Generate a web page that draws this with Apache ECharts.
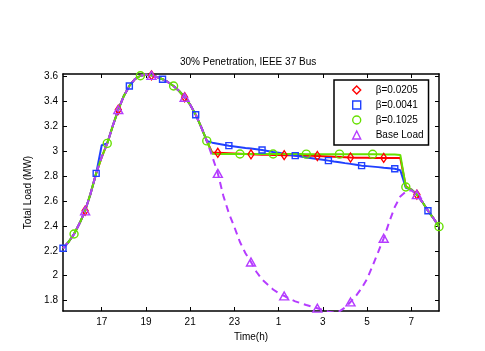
<!DOCTYPE html>
<html>
<head>
<meta charset="utf-8">
<script src="https://cdn.jsdelivr.net/npm/echarts@6/dist/echarts.min.js"></script>
<style>
  html, body { margin: 0; padding: 0; background: #fff; }
  #chart { width: 485px; height: 351px; }
</style>
</head>
<body>
<div id="chart"></div>
<script>
// time of day in hours (past midnight goes on as 24, 25, ...)
const hours = [15.25,15.5,15.75,16,16.25,16.5,16.75,17,17.25,17.5,17.75,18,18.25,18.5,18.75,19,19.25,19.5,19.75,20,
  20.25,20.5,20.75,21,21.25,21.5,21.75,22,22.25,22.5,22.75,23,23.25,23.5,23.75,24,24.25,24.5,24.75,25,
  25.25,25.5,25.75,26,26.25,26.5,26.75,27,27.25,27.5,27.75,28,28.25,28.5,28.75,29,29.25,29.5,29.75,30,
  30.25,30.5,30.75,31,31.25,31.5,31.75,32,32.25];

// total load (MW)
const beta0205 = [2.22,2.27,2.334,2.42,2.52,2.66,2.82,2.95,3.06,3.2,3.33,3.44,3.52,3.575,3.602,3.612,3.605,3.592,3.574,3.55,
  3.52,3.48,3.43,3.37,3.29,3.19,3.08,2.985,2.985,2.983,2.981,2.979,2.977,2.975,2.973,2.971,2.970,2.969,2.968,2.967,
  2.966,2.965,2.964,2.963,2.962,2.961,2.959,2.957,2.955,2.953,2.951,2.949,2.947,2.946,2.945,2.945,2.944,2.944,2.944,2.944,
  2.944,2.943,2.715,2.69,2.65,2.59,2.521,2.46,2.393];
const beta0041 = [2.22,2.27,2.334,2.42,2.52,2.66,2.82,3.045,3.06,3.2,3.33,3.44,3.52,3.575,3.602,3.612,3.605,3.592,3.574,3.55,
  3.52,3.48,3.43,3.37,3.29,3.19,3.08,3.066,3.058,3.05,3.042,3.036,3.03,3.024,3.019,3.013,3.007,3.0,2.992,2.985,
  2.977,2.97,2.962,2.955,2.948,2.942,2.935,2.929,2.922,2.915,2.909,2.902,2.896,2.889,2.882,2.878,2.874,2.87,2.865,2.861,
  2.857,2.845,2.705,2.69,2.65,2.59,2.521,2.46,2.393];
const beta1025 = [2.22,2.27,2.334,2.42,2.52,2.66,2.82,2.95,3.06,3.2,3.33,3.44,3.52,3.575,3.602,3.612,3.605,3.592,3.574,3.55,
  3.52,3.48,3.43,3.37,3.29,3.19,3.08,2.978,2.976,2.976,2.976,2.976,2.975,2.975,2.975,2.975,2.975,2.975,2.975,2.975,
  2.975,2.975,2.975,2.975,2.974,2.974,2.974,2.974,2.974,2.974,2.974,2.974,2.973,2.973,2.973,2.973,2.973,2.973,2.972,2.972,
  2.972,2.968,2.711,2.69,2.65,2.59,2.521,2.46,2.393];
const baseLoad = [2.22,2.27,2.334,2.42,2.52,2.66,2.82,2.95,3.06,3.2,3.33,3.44,3.52,3.575,3.602,3.612,3.605,3.592,3.574,3.55,
  3.52,3.48,3.43,3.37,3.29,3.19,3.08,2.955,2.82,2.64,2.5,2.39,2.27,2.18,2.11,2.03,1.97,1.93,1.89,1.86,
  1.838,1.815,1.795,1.78,1.765,1.752,1.74,1.725,1.712,1.705,1.715,1.745,1.79,1.84,1.9,1.975,2.08,2.19,2.3,2.43,
  2.55,2.635,2.675,2.685,2.65,2.59,2.521,2.46,2.393];

const xTicks = [17,19,21,23,25,27,29,31];
const yTicks = [1.8,2,2.2,2.4,2.6,2.8,3,3.2,3.4,3.6];

const font = 'Liberation Sans, Arial, Helvetica, sans-serif';
const hollow = 'rgba(0,0,0,0)';

const pairs = (vals) => hours.map((h, i) => [h, vals[i]]);

// marker only on every 6th sample, shifted per curve (like MarkerIndices)
const markEvery = (shape, offset) => (val, p) => (p.dataIndex % 6 === offset ? shape : 'none');

const makeSeries = (name, vals, color, shape, offset, size, dashed) => ({
  name: name,
  type: 'line',
  data: pairs(vals),
  showSymbol: true,
  symbol: markEvery(shape, offset),
  symbolSize: size,
  lineStyle: { color: color, width: 2, type: dashed ? [7, 5] : 'solid' },
  itemStyle: { color: hollow, borderColor: color, borderWidth: 1.4 },
  emphasis: { disabled: true },
  silent: true
});

const legendItem = (name, icon, color) => ({
  name: name, icon: icon,
  itemStyle: { color: hollow, borderColor: color, borderWidth: 1.4 }
});

const frameAxis = (extra) => Object.assign({
  type: 'value',
  axisLine: { show: true, onZero: false, lineStyle: { color: '#000', width: 1.5 } },
  splitLine: { show: false },
  nameTextStyle: { color: '#000', fontFamily: font, fontSize: 10 }
}, extra);

const chart = echarts.init(document.getElementById('chart'));
chart.setOption({
  animation: false,
  backgroundColor: '#fff',
  title: {
    text: '30% Penetration, IEEE 37 Bus',
    left: 180, top: 57, padding: 0,
    textStyle: { color: '#000', fontFamily: font, fontSize: 10, fontWeight: 'normal' }
  },
  grid: { left: 63, right: 46, top: 74, bottom: 40 },
  legend: {
    orient: 'vertical',
    left: 334, top: 80,
    padding: [4, 5, 4, 18],
    itemWidth: 8, itemHeight: 8, itemGap: 3,
    backgroundColor: '#fff',
    borderColor: '#000', borderWidth: 1.5,
    selectedMode: false,
    textStyle: { color: '#000', fontFamily: font, fontSize: 10, lineHeight: 12, padding: [0, 0, 0, 10] },
    data: [
      legendItem('β=0.0205', 'diamond', '#ff0000'),
      legendItem('β=0.0041', 'rect', '#2040ff'),
      legendItem('β=0.1025', 'circle', '#66e000'),
      legendItem('Base Load', 'triangle', '#b53cff')
    ]
  },
  xAxis: [
    frameAxis({
      position: 'bottom', min: 15.25, max: 32.25,
      name: 'Time(h)', nameLocation: 'middle', nameGap: 15,
      axisTick: { inside: true, length: 4, customValues: xTicks, lineStyle: { color: '#000' } },
      axisLabel: { customValues: xTicks, margin: 6, color: '#000', fontFamily: font, fontSize: 10,
        formatter: (v) => String(v % 24) }
    }),
    frameAxis({
      position: 'top', min: 15.25, max: 32.25,
      axisTick: { inside: true, length: 4, customValues: xTicks, lineStyle: { color: '#000' } },
      axisLabel: { show: false }
    })
  ],
  yAxis: [
    frameAxis({
      position: 'left', min: 1.7175, max: 3.616,
      name: 'Total Load (MW)', nameLocation: 'middle', nameGap: 17,
      axisTick: { inside: true, length: 4, customValues: yTicks, lineStyle: { color: '#000' } },
      axisLabel: { customValues: yTicks, margin: 5, color: '#000', fontFamily: font, fontSize: 10,
        formatter: (v) => String(+v.toFixed(1)) }
    }),
    frameAxis({
      position: 'right', min: 1.7175, max: 3.616,
      axisTick: { inside: true, length: 4, customValues: yTicks, lineStyle: { color: '#000' } },
      axisLabel: { show: false }
    })
  ],
  series: [
    makeSeries('β=0.0205', beta0205, '#ff0000', 'diamond', 4, [6, 9], false),
    makeSeries('β=0.0041', beta0041, '#2040ff', 'rect', 0, 6, false),
    makeSeries('β=0.1025', beta1025, '#66e000', 'circle', 2, 8, false),
    makeSeries('Base Load', baseLoad, '#b53cff', 'triangle', 4, [9, 8], true)
  ]
});
</script>
</body>
</html>
